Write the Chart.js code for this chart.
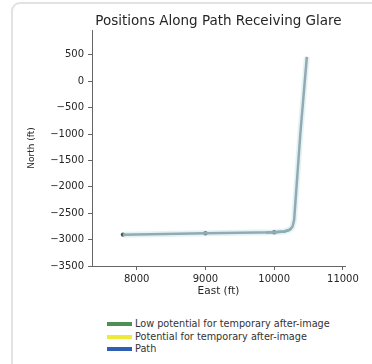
<!DOCTYPE html>
<html>
<head>
<meta charset="utf-8">
<script src="https://cdn.jsdelivr.net/npm/chart.js@4.4.1/dist/chart.umd.min.js"></script>
<style>
  html,body{margin:0;padding:0;background:#fff;width:372px;height:364px;overflow:hidden;font-family:"DejaVu Sans",sans-serif;}
  #frame{position:absolute;left:11px;top:2px;width:400px;height:400px;border:2px solid #e2e2e2;border-radius:9px;box-sizing:border-box;}
  #wrap{position:absolute;left:0;top:0;width:372px;height:302px;}
  #title{position:absolute;left:92px;width:253px;top:12px;text-align:center;font-size:13.5px;color:#262626;white-space:nowrap;line-height:16px;}
  #legend{position:absolute;left:107px;top:318px;font-size:9.7px;color:#333;line-height:12.5px;}
  .row{display:flex;align-items:center;height:12.5px;}
  .sw{width:25px;height:4px;margin-right:3px;}
</style>
</head>
<body>
<div id="frame"></div>
<div id="wrap"><canvas id="c" width="372" height="302"></canvas></div>
<div id="title">Positions Along Path Receiving Glare</div>
<div id="legend"></div>
<script>
// ---- data ----
const pathEast  = [7800, 9000, 10000, 10150, 10220, 10265, 10290, 10380, 10475];
const pathNorth = [-2910, -2882, -2862, -2845, -2815, -2760, -2630, -1000, 460];
const lowEast   = [9880, 10000, 10150, 10220, 10250];
const lowNorth  = [-2865, -2862, -2845, -2815, -2790];
const markEast  = [7800, 9000, 10000];
const markNorth = [-2905, -2880, -2860];
const xTicks = [8000, 9000, 10000, 11000];
const yTicks = [-3500, -3000, -2500, -2000, -1500, -1000, -500, 0, 500];
const legendLabels = ["Low potential for temporary after-image", "Potential for temporary after-image", "Path"];
const legendColors = ["#4f8f4f", "#eeea3a", "#2f5fb3"];

const toPts = (xs, ys) => xs.map((x, i) => ({x: x, y: ys[i]}));

// HTML legend
const lg = document.getElementById('legend');
legendLabels.forEach((t, i) => {
  const r = document.createElement('div'); r.className = 'row';
  const s = document.createElement('div'); s.className = 'sw'; s.style.background = legendColors[i];
  const l = document.createElement('span'); l.textContent = t;
  r.appendChild(s); r.appendChild(l); lg.appendChild(r);
});

const axisColor = '#666';
const txt = '#262626';
new Chart(document.getElementById('c'), {
  type: 'scatter',
  data: {
    datasets: [
      {label: 'halo', data: toPts(pathEast, pathNorth), showLine: true, borderColor: 'rgba(175,220,225,0.35)', borderWidth: 6, pointRadius: 0, tension: 0},
      {label: legendLabels[2], data: toPts(pathEast, pathNorth), showLine: true, borderColor: '#85909a', borderWidth: 2.5, pointRadius: 0, tension: 0},
      {label: legendLabels[0], data: toPts(lowEast, lowNorth), showLine: true, borderColor: '#3c9f76', borderWidth: 2.5, pointRadius: 0, tension: 0},
      {label: 'markers', data: toPts(markEast, markNorth), showLine: false, pointRadius: 2.2, pointBackgroundColor: '#4a5560', pointBorderWidth: 0}
    ]
  },
  options: {
    responsive: false,
    animation: false,
    layout: {padding: {left: 0, right: 27, top: 30, bottom: 0}},
    plugins: {
      legend: {display: false},
      tooltip: {enabled: false},
      title: {display: false}
    },
    scales: {
      x: {
        type: 'linear', min: 7350, max: 11030,
        afterBuildTicks: s => { s.ticks = xTicks.map(v => ({value: v})); },
        afterFit: s => { s.height = 36; },
        grid: {display: true, drawOnChartArea: false, drawTicks: true, tickLength: 4, color: axisColor},
        border: {display: true, color: axisColor, width: 1},
        ticks: {color: txt, padding: 3, maxRotation: 0, font: {family: 'DejaVu Sans', size: 10}, callback: v => String(v)},
        title: {display: true, text: 'East (ft)', color: txt, font: {family: 'DejaVu Sans', size: 10.5}, padding: {top: 0, bottom: 4}}
      },
      y: {
        type: 'linear', min: -3500, max: 970,
        afterBuildTicks: s => { s.ticks = yTicks.map(v => ({value: v})); },
        afterFit: s => { s.width = 92; },
        grid: {display: true, drawOnChartArea: false, drawTicks: true, tickLength: 4, color: axisColor},
        border: {display: true, color: axisColor, width: 1},
        ticks: {color: txt, padding: 4, font: {family: 'DejaVu Sans', size: 10}, callback: v => (v < 0 ? '\u2212' + Math.abs(v) : String(v))},
        title: {display: true, text: 'North (ft)', color: txt, font: {family: 'DejaVu Sans', size: 9}, padding: {top: 26, bottom: 0}}
      }
    }
  }
});
</script>
</body>
</html>
